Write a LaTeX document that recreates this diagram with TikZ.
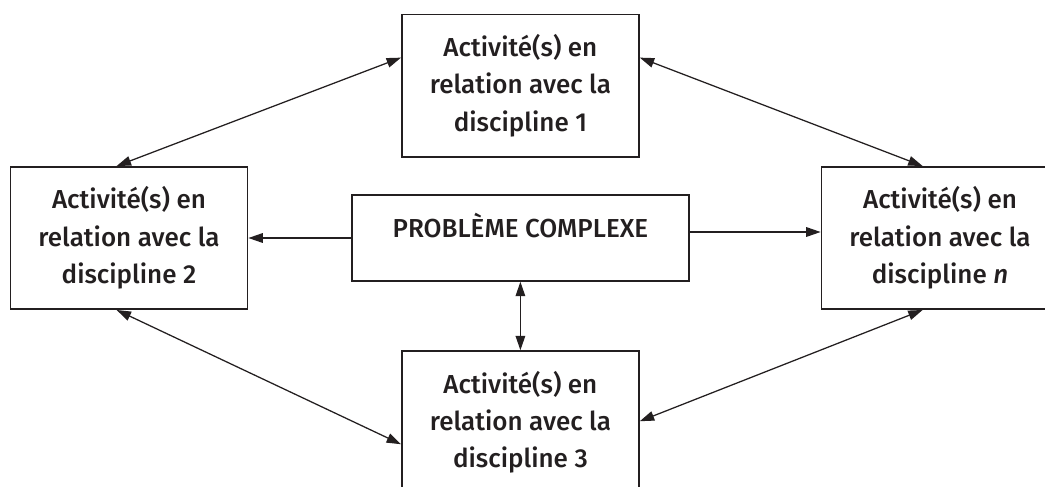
\documentclass[tikz,border=0pt]{standalone}
\usepackage{fontspec}
\setmainfont{Fira Sans}[UprightFont=* Medium, ItalicFont=* Medium Italic]
\usetikzlibrary{arrows.meta}
\definecolor{ink}{HTML}{231F20}

\begin{document}
\begin{tikzpicture}

\tikzset{
  activite/.style={draw=ink, line width=1.1pt, minimum width=5.93cm, minimum height=3.56cm,
    align=center, text=ink, font=\fontsize{18.5}{26.5}\selectfont},
  lien/.style={draw=ink, line width=0.9pt, -{Triangle[length=0.36cm,width=0.24cm]}},
  liens/.style={draw=ink, line width=0.9pt, {Triangle[length=0.36cm,width=0.24cm]}-{Triangle[length=0.36cm,width=0.24cm]}}
}

\useasboundingbox (0,0) rectangle (26.125,-12.15);
\clip (0,0) rectangle (26.125,-12.15);

\node[activite] (d1) at (13.01,-2.14) {Activité(s) en\\relation avec la\\discipline 1};
\node[activite] (d2) at (3.225,-5.95) {Activité(s) en\\relation avec la\\discipline 2};
\node[activite] (d3) at (13.01,-10.555) {Activité(s) en\\relation avec la\\discipline 3};
\node[activite] (dn) at (23.5,-5.95) {Activité(s) en\\relation avec la\\discipline \textit{n}};
\node[activite, minimum width=8.425cm, minimum height=2.15cm,
  text height=0.5cm, text depth=0.55cm] (pb) at (13.01,-5.95) {PROBLÈME COMPLEXE};

% du probleme vers les disciplines
\draw[lien] (pb.west) -- (d2.east);
\draw[lien] ([yshift=0.15cm]pb.east) -- ([yshift=0.15cm]dn.west);
\draw[liens] (pb.south) -- (d3.north);

% entre les disciplines
\draw[liens] ([yshift=-1.1cm]d1.north west) -- ([xshift=2.675cm]d2.north west);
\draw[liens] ([yshift=-1.1cm]d1.north east) -- ([xshift=2.55cm]dn.north west);
\draw[liens] ([xshift=2.675cm]d2.south west) -- ([yshift=-2.35cm]d3.north west);
\draw[liens] ([yshift=-1.775cm]d3.north east) -- ([xshift=2.55cm]dn.south west);

\end{tikzpicture}
\end{document}
